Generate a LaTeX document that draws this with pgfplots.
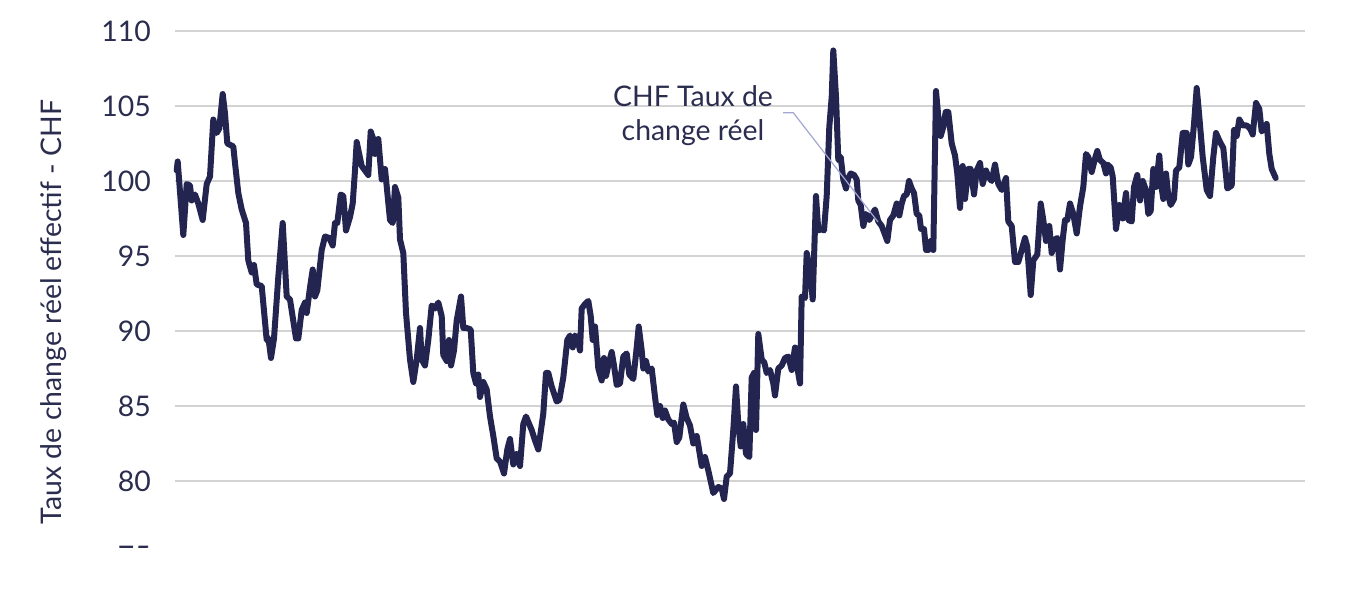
\documentclass[border=0pt]{standalone}
\usepackage{fontspec}
\setmainfont{Lato}
\usepackage{pgfplots}
\pgfplotsset{compat=1.18}
\definecolor{navy}{HTML}{232550}
\definecolor{txt}{HTML}{2B2D4F}
\definecolor{gridc}{HTML}{D3D3D3}
\definecolor{leader}{HTML}{A3A6D2}
\pgfplotstableread{
x y
176.7 100.7
177.7 101.3
183.3 96.4
186.7 99.8
190 99.7
191.7 98.7
195 99.1
198.3 98.5
202.7 97.4
206.7 99.8
210 100.3
213.3 104.1
216.7 103.2
219.3 103.5
222.7 105.8
225 104.5
227.3 102.5
233.3 102.3
235 101.2
238.3 99.2
241.7 98.1
246 97.2
248.3 94.7
251.7 93.9
254 94.4
256.7 93.1
261.7 93.0
266.7 89.4
268.5 89.5
271 88.2
274 89.5
278.3 93.6
282.7 97.2
286.7 92.3
290 92.1
296 89.5
298.3 89.5
301.7 91.4
305 91.9
306.7 91.2
310 92.9
312.7 94.1
315 92.3
317.3 92.7
321.7 95.4
325 96.3
329.3 96.2
332.7 95.7
335 97.2
337.3 97.2
340.7 99.1
343.3 99.0
346 96.7
350 97.6
352.7 98.5
355 100.7
356.7 102.6
361.7 101.0
368.3 100.4
370.7 103.3
373.3 102.8
375 101.8
378.3 102.8
381.7 100.1
385 100.8
390 97.4
392.7 97.2
395 99.6
398.3 98.9
400 96.1
403.3 95.2
406 91.2
410 88.1
413.3 86.6
416.7 88.1
420 90.2
421.7 88.1
425 87.7
428.3 89.4
431.7 91.7
435 91.5
438.3 91.9
441.7 91.0
443.3 88.4
446.7 88.0
449 89.4
451 87.7
454 88.7
456.7 90.7
461 92.3
463.3 90.2
466.7 90.2
470.7 90.1
473.3 87.2
476 86.5
478.3 87.1
480 85.6
483.3 86.6
486.7 86.1
490 84.3
493.3 83.0
496.7 81.5
500 81.3
504 80.5
507.3 82.1
510 82.8
513.3 81.1
516.7 81.8
520 81.0
523.3 83.8
526 84.3
531.7 83.4
535 82.7
538.3 82.1
543.3 84.5
546 87.2
548.3 87.2
551.7 86.3
556.7 85.3
559.3 85.4
563.3 86.9
567.3 89.4
570 89.7
572.7 88.9
575 89.7
577.3 89.5
580 88.7
581.7 91.5
585 91.8
588.3 92.0
590.7 91.0
592.7 89.4
595 90.3
596.7 88.9
598.3 87.5
601.7 86.7
604 88.2
606 87.0
608.3 87.7
611.7 88.6
614 87.7
616.7 86.4
620 86.5
623.3 88.3
626.7 88.5
629.3 87.1
633.3 86.8
636.7 88.9
638.7 90.3
641.7 88.7
643.3 87.5
646 88.0
648.3 87.3
651.7 87.5
655 85.6
657.3 84.4
660 85.0
662.7 84.2
665 84.7
668.3 84.1
671.7 83.8
674 83.9
676.7 82.6
679.3 82.9
683.3 85.1
686.7 84.2
690 83.7
693.3 82.5
696.7 83.0
698.3 82.4
701.7 81.0
705 81.6
708.3 80.7
713.3 79.2
718.3 79.6
721.7 79.5
724 78.8
726.7 80.3
730 80.5
733.3 83.4
736 86.3
738.3 83.8
740.7 82.3
743.3 83.8
746 81.8
749.3 81.6
751.7 86.9
754 87.2
756 83.4
758.3 89.8
761.7 88.1
764.3 87.9
766.7 87.2
770 87.4
773.3 86.5
775 85.7
778.3 87.5
781.7 87.7
785 88.2
788.3 88.3
791.7 87.4
795 88.9
797.7 87.4
800 86.5
801.7 92.3
805 92.2
806.7 95.2
810 94.1
812.7 92.1
816 99.0
818.3 96.7
821.7 96.8
824 96.7
826.7 99.0
829.3 103.6
831.7 105.6
833.3 108.7
836 105.6
838.3 101.4
840.7 101.6
843.3 100.1
846 99.5
848.3 100.2
850.7 100.5
854 100.4
856.7 100.1
858.3 98.7
860.7 98.4
863.3 97.0
866 97.8
869.3 97.4
871.7 97.7
875 98.1
878.3 97.3
881.7 97.0
884 96.6
887.3 96.0
890 97.4
893.3 97.7
896.7 98.5
899.3 97.7
901.7 98.5
904 99.0
906.7 99.1
909 100.0
911.7 99.5
914 99.2
916.7 97.8
919.3 97.7
921 96.8
924 96.8
926 95.4
928.3 95.4
930.7 96.0
933.3 95.4
936 106.0
938.3 104.3
940.7 103.0
943.3 103.6
945.7 104.6
948.3 104.6
951.7 102.5
955 101.7
957.3 100.5
960 98.2
962.7 101.0
965 98.8
968.3 100.8
970.7 100.8
974 99.1
976.7 100.7
980 101.2
982.7 99.8
986 100.7
988.3 100.3
991.7 100.0
995 101.1
998.3 99.8
1001.7 99.4
1006 100.2
1008.3 97.3
1011.7 97.0
1015 94.6
1018.3 94.6
1021.7 95.4
1025 96.2
1027.3 95.6
1030.7 92.4
1033.3 94.7
1037.3 95.1
1040.7 98.5
1043.3 97.4
1046 96.0
1049.3 97.0
1051.7 95.2
1055 96.1
1057.3 96.2
1060 94.1
1062.7 96.1
1065 97.4
1067.3 97.4
1070 98.5
1073.3 97.8
1076.7 96.5
1080 98.3
1083.3 99.6
1086 101.8
1088.3 101.6
1091.7 100.6
1095 101.5
1097.3 102.0
1100 101.4
1103.3 101.2
1106 100.5
1107.3 101.1
1110.7 100.9
1112.7 100.3
1116 96.8
1119.3 98.4
1122.7 97.5
1126 99.2
1128.3 97.4
1131.7 97.3
1134 99.6
1137.3 100.4
1140 98.7
1142.7 100.0
1146 99.4
1148.3 97.8
1150.7 98.0
1153.3 100.8
1156 99.6
1159.3 101.7
1161.7 99.5
1163.3 98.8
1166 100.5
1168.3 99.0
1170.7 98.4
1174 98.8
1176 100.7
1179.3 100.9
1182.7 103.2
1186.7 103.2
1188.3 101.1
1191 101.6
1194 103.8
1196.7 106.2
1199.3 104.3
1202.7 101.6
1206.7 99.4
1210 99.0
1213.3 101.6
1216 103.2
1220 102.6
1223.3 102.2
1227.3 99.5
1231.7 99.7
1234 103.4
1236.7 103.0
1239.3 104.1
1242.7 103.7
1246.7 103.7
1250 103.5
1252.7 103.1
1256 105.2
1259.3 104.8
1261.7 103.3
1264 103.5
1266.7 103.8
1269.3 101.8
1271.7 100.8
1275.7 100.2
}\chf
\begin{document}
\begin{tikzpicture}
\begin{axis}[
  at={(87.5pt,21pt)}, anchor=south west,
  scale only axis, width=565pt, height=262.5pt,
  xmin=175, xmax=1305, ymin=75, ymax=110,
  axis line style={draw=none},
  tick style={draw=none},
  xtick=\empty,
  ytick={75,80,...,110},
  ymajorgrids,
  grid style={gridc, line width=1pt},
  /pgf/number format/assume math mode=true,
  yticklabel style={font=\fontsize{14.2}{16}\selectfont, text=txt, xshift=-8.6pt},
  ylabel={Taux de change réel effectif - CHF},
  ylabel style={at={(axis description cs:-0.1075,0.4648)}, anchor=center,
    font=\fontsize{14.2}{16}\selectfont, text=txt},
  clip=false,
]
\addplot[navy, line width=3pt, line join=round, line cap=round] table[x=x,y=y] {\chf};
\node[anchor=base, font=\fontsize{14.2}{16}\selectfont, text=txt] at (axis cs:693,104.95) {CHF Taux de};
\node[anchor=base, font=\fontsize{14.2}{16}\selectfont, text=txt] at (axis cs:693,102.73) {change réel};
\draw[leader, line width=0.6pt] (axis cs:783,104.55) -- (axis cs:793.3,104.55) -- (axis cs:878,97.27);
\end{axis}
\fill[white] (0,0) rectangle (679.5pt,25.2pt);
\pgfresetboundingbox
\useasboundingbox (0,0) rectangle (679.5pt,299pt);
\end{tikzpicture}
\end{document}
